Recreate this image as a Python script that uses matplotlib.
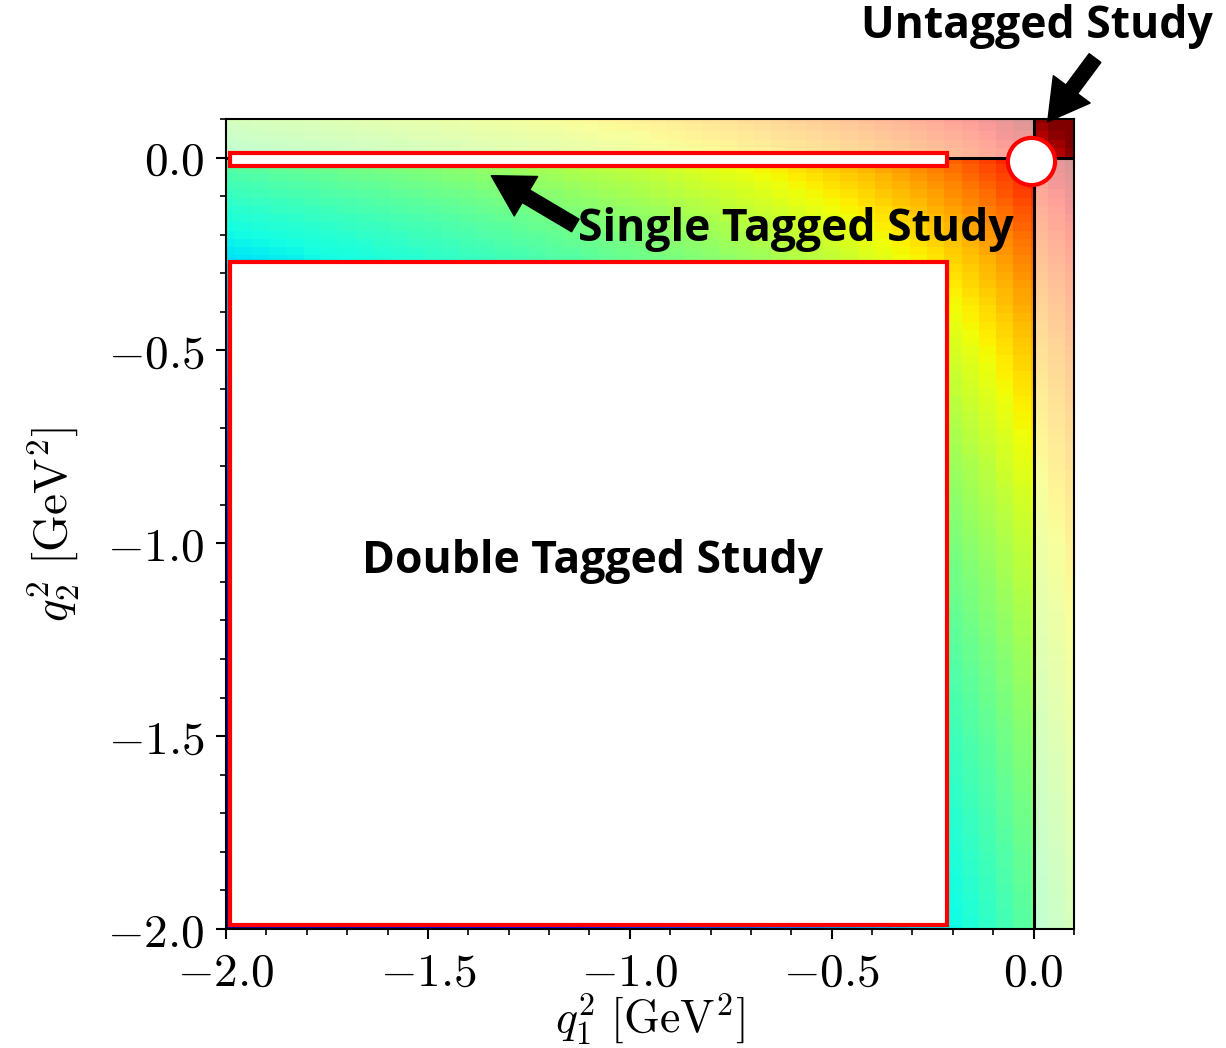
import numpy as np
import matplotlib
matplotlib.use('Agg')
import matplotlib.pyplot as plt
from matplotlib.colors import LogNorm
from matplotlib.patches import Rectangle
from matplotlib.ticker import MultipleLocator, FuncFormatter

plt.rcParams['mathtext.fontset'] = 'cm'

# ---- data -------------------------------------------------------------
q1_centres = np.linspace(-2.0, 0.1, 50)
q2_centres = np.linspace(-2.0, 0.1, 99)

# form-factor profile along q^2, on the q2 grid
profile = np.array([
    0.1667, 0.1682, 0.1697, 0.1713, 0.1728, 0.1745, 0.1761, 0.1778, 0.1795, 0.1812,
    0.1830, 0.1848, 0.1867, 0.1886, 0.1905, 0.1924, 0.1944, 0.1965, 0.1986, 0.2007,
    0.2029, 0.2051, 0.2074, 0.2097, 0.2121, 0.2146, 0.2171, 0.2196, 0.2222, 0.2249,
    0.2276, 0.2305, 0.2333, 0.2363, 0.2393, 0.2424, 0.2456, 0.2489, 0.2523, 0.2557,
    0.2593, 0.2629, 0.2667, 0.2705, 0.2745, 0.2786, 0.2828, 0.2872, 0.2917, 0.2963,
    0.3011, 0.3060, 0.3111, 0.3164, 0.3218, 0.3275, 0.3333, 0.3394, 0.3457, 0.3522,
    0.3590, 0.3660, 0.3733, 0.3810, 0.3889, 0.3972, 0.4058, 0.4148, 0.4242, 0.4341,
    0.4444, 0.4553, 0.4667, 0.4786, 0.4912, 0.5045, 0.5185, 0.5333, 0.5490, 0.5657,
    0.5833, 0.6022, 0.6222, 0.6437, 0.6667, 0.6914, 0.7179, 0.7467, 0.7778, 0.8116,
    0.8485, 0.8889, 0.9333, 0.9825, 1.0370, 1.0980, 1.1667, 1.2444, 1.3333,
])
profile_q1 = profile[::2]

# study regions (q1_min, q1_max, q2_min, q2_max)
single_region = (-1.99, -0.215, -0.021, 0.011)
double_region = (-1.99, -0.215, -1.99, -0.27)
untagged_point = (-0.006, -0.008)

labels = ["Untagged Study", "Single Tagged Study", "Double Tagged Study"]

F = np.outer(profile, profile_q1)

# ---- figure -----------------------------------------------------------
fig = plt.figure(figsize=(12.26, 10.48), dpi=100)
ax = fig.add_axes([226/1226, 1-929/1048, (1074-226)/1226, (929-119)/1048])

ax.pcolormesh(q1_centres, q2_centres, F, shading='nearest', cmap='jet',
              norm=LogNorm(vmin=0.0247, vmax=1.45), zorder=0, rasterized=True)

# pale overlay where exactly one virtuality is positive
ax.add_patch(Rectangle((0, -2.1), 0.2, 2.1, facecolor='white', alpha=0.6,
                       edgecolor='none', zorder=1))
ax.add_patch(Rectangle((-2.1, 0), 2.1, 0.2, facecolor='white', alpha=0.6,
                       edgecolor='none', zorder=1))

ax.axvline(0, color='black', lw=2.2, zorder=2)
ax.axhline(0, color='black', lw=2.2, zorder=2)

for (x0, x1, y0, y1) in [single_region, double_region]:
    ax.add_patch(Rectangle((x0, y0), x1 - x0, y1 - y0, facecolor='white',
                           edgecolor='red', lw=3.0, zorder=3))

ax.plot([untagged_point[0]], [untagged_point[1]], marker='o', ms=34,
        mfc='white', mec='red', mew=3.0, zorder=4, clip_on=False)

tfont = dict(family='Open Sans', weight='bold', size=32)
arrow = dict(facecolor='black', edgecolor='black', width=10.5, headwidth=33,
             headlength=29, shrink=0)

ax.annotate('', xy=(0.035, 0.093), xytext=(0.152, 0.258),
            arrowprops=arrow, annotation_clip=False, zorder=5)
ax.text(0.008, 0.34, labels[0], ha='center', va='center', fontdict=tfont,
        zorder=5, clip_on=False)

ax.annotate('', xy=(-1.343, -0.047), xytext=(-1.135, -0.176),
            arrowprops=arrow, annotation_clip=False, zorder=5)
ax.text(-1.128, -0.187, labels[1], ha='left', va='center', fontdict=tfont,
        zorder=5)

ax.text(-1.093, -1.048, labels[2], ha='center', va='center', fontdict=tfont,
        zorder=5)

ax.set_xlim(-2.0, 0.1)
ax.set_ylim(-2.0, 0.1)

fmt = FuncFormatter(lambda v, p: r"$%.1f$" % v)
for axis in (ax.xaxis, ax.yaxis):
    axis.set_major_locator(MultipleLocator(0.5))
    axis.set_minor_locator(MultipleLocator(0.1))
    axis.set_major_formatter(fmt)
ax.tick_params(which='major', direction='out', length=7.5, width=1.5,
               labelsize=34, pad=8)
ax.tick_params(which='minor', direction='out', length=4.3, width=1.2)
for s in ax.spines.values():
    s.set_linewidth(1.5)

ax.set_xlabel(r"$q_1^2\ [\mathrm{GeV}^2]$", fontsize=33, labelpad=-2.5)
ax.set_ylabel(r"$q_2^2\ [\mathrm{GeV}^2]$", fontsize=34, labelpad=18)

fig.savefig('out.png', dpi=100)
